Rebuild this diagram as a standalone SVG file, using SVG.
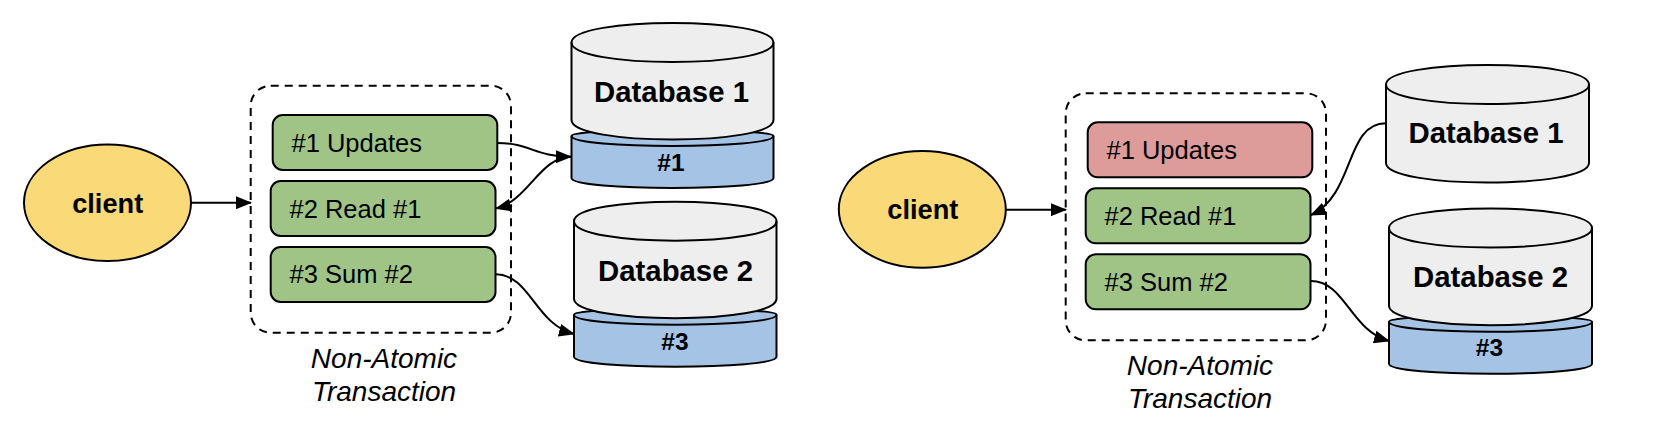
<svg xmlns="http://www.w3.org/2000/svg" width="1666" height="428" viewBox="0 0 1666 428">
<style>
text{font-family:"Liberation Sans",Arial,sans-serif;fill:#000;text-anchor:middle}
.db{font-size:29.33px;font-weight:bold}
.id{font-size:24.5px;font-weight:bold}
.cl{font-size:27.2px;font-weight:bold}
.t{font-size:25.5px;text-anchor:start}
.cap{font-size:28px;font-style:italic}
.s{stroke:#000;stroke-width:2}
.n{fill:none}
.client{fill:#f9d978}
.green{fill:#9fc486}
.red{fill:#dd9c9a}
.grey{fill:#eee}
.blue{fill:#a5c3e5}
.dash{fill:none;stroke:#000;stroke-width:2;stroke-dasharray:8 6}
.c{fill:none;stroke:#000;stroke-width:2;marker-end:url(#a)}
</style>
<defs>
<marker id="a" viewBox="0 0 16 13" markerUnits="userSpaceOnUse" markerWidth="16" markerHeight="13" refX="15" refY="6.500" orient="auto"><path d="M0 0L16 6.500L0 13Z" fill="#000"/></marker>
</defs>
<g id="client-left"><ellipse class="client s" cx="107.500" cy="202.700" rx="83.500" ry="58.300"/><text class="cl" x="107.700" y="212.700">client</text></g>
<g id="box-left"><rect class="dash" x="250.700" y="85.700" width="260.300" height="247" rx="20"/><text class="cap" x="384" y="367.700">Non-Atomic</text><text class="cap" x="384" y="401">Transaction</text></g>
<g id="op1-left"><rect class="green s" x="272.700" y="115" width="224.600" height="55" rx="10"/><text class="t" x="291.500" y="151.700">#1 Updates</text></g>
<g id="op2-left"><rect class="green s" x="270.700" y="181" width="224.800" height="55" rx="10"/><text class="t" x="289.500" y="217.700">#2 Read #1</text></g>
<g id="op3-left"><rect class="green s" x="270.700" y="247" width="224.800" height="55" rx="10"/><text class="t" x="289.500" y="283.300">#3 Sum #2</text></g>
<g id="db1-left">
<path class="blue s" d="M571.500 136C571.500 128 773.500 128 773.500 136V178C773.500 191.300 571.500 191.300 571.500 178Z"/>
<path class="s n" d="M571.500 136C571.500 149.300 773.500 149.300 773.500 136"/>
<path class="grey s" d="M571.500 42.500C571.500 16.500 773.500 16.500 773.500 42.500V120C773.500 146 571.500 146 571.500 120Z"/>
<path class="s n" d="M571.500 42.500C571.500 68.500 773.500 68.500 773.500 42.500"/>
<text class="db" x="671.500" y="101.700">Database 1</text><text class="id" x="671" y="170.700">#1</text></g>
<g id="db2-left">
<path class="blue s" d="M574 314.700C574 306.700 776.500 306.700 776.500 314.700V356.700C776.500 370 574 370 574 356.700Z"/>
<path class="s n" d="M574 314.700C574 328 776.500 328 776.500 314.700"/>
<path class="grey s" d="M574 221.200C574 195.200 776.500 195.200 776.500 221.200V298.700C776.500 324.700 574 324.700 574 298.700Z"/>
<path class="s n" d="M574 221.200C574 247.200 776.500 247.200 776.500 221.200"/>
<text class="db" x="675.500" y="280.500">Database 2</text><text class="id" x="675" y="349.500">#3</text></g>

<g id="client-right"><ellipse class="client s" cx="922.300" cy="209.400" rx="83.500" ry="58.300"/><text class="cl" x="922.800" y="219.300">client</text></g>
<g id="box-right"><rect class="dash" x="1065.700" y="93.300" width="260.300" height="247" rx="20"/><text class="cap" x="1200" y="375">Non-Atomic</text><text class="cap" x="1200" y="408">Transaction</text></g>
<g id="op1-right"><rect class="red s" x="1087.700" y="122.300" width="224.600" height="55" rx="10"/><text class="t" x="1106.500" y="159">#1 Updates</text></g>
<g id="op2-right"><rect class="green s" x="1085.700" y="188.300" width="224.800" height="55" rx="10"/><text class="t" x="1104.500" y="225">#2 Read #1</text></g>
<g id="op3-right"><rect class="green s" x="1085.700" y="254.300" width="224.800" height="55" rx="10"/><text class="t" x="1104.500" y="290.500">#3 Sum #2</text></g>
<g id="db1-right">
<path class="grey s" d="M1386 84.500C1386 58.500 1589 58.500 1589 84.500V163C1589 189 1386 189 1386 163Z"/>
<path class="s n" d="M1386 84.500C1386 110.500 1589 110.500 1589 84.500"/>
<text class="db" x="1486" y="143">Database 1</text></g>
<g id="db2-right">
<path class="blue s" d="M1389 321.700C1389 313.700 1592 313.700 1592 321.700V363.700C1592 377 1389 377 1389 363.700Z"/>
<path class="s n" d="M1389 321.700C1389 335 1592 335 1592 321.700"/>
<path class="grey s" d="M1389 228C1389 202 1592 202 1592 228V305.700C1592 331.700 1389 331.700 1389 305.700Z"/>
<path class="s n" d="M1389 228C1389 254 1592 254 1592 228"/>
<text class="db" x="1490.500" y="287">Database 2</text><text class="id" x="1489.500" y="356">#3</text></g>

<g id="connectors">
<path class="c" d="M191 202.700H251"/>
<path class="c" d="M497.300 143C530 143 535 156.700 571 156.700"/>
<path class="c" d="M571 156.700C540 156.700 528 201 496 208.500"/>
<path class="c" d="M495.500 274.300C530 274.300 535 324 574 334"/>
<path class="c" d="M1006 209.700H1066"/>
<path class="c" d="M1386 123.300C1345 123 1355 195 1311 215"/>
<path class="c" d="M1311 281C1345 281 1350 330 1389 341"/>
</g>
</svg>
